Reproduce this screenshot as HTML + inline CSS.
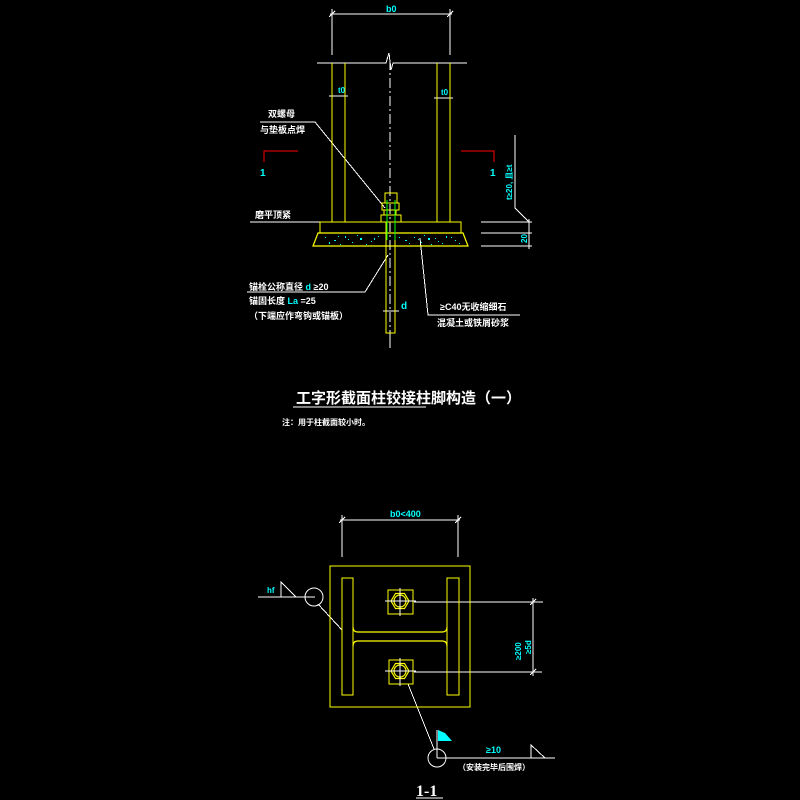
<!DOCTYPE html>
<html><head><meta charset="utf-8"><style>
html,body{margin:0;padding:0;background:#000;width:800px;height:800px;overflow:hidden}
svg text{font-family:"Liberation Sans","Noto Sans CJK SC",sans-serif;font-weight:bold}
</style></head><body>
<svg width="800" height="800" viewBox="0 0 800 800" xmlns="http://www.w3.org/2000/svg">
<rect width="800" height="800" fill="#000"/>
<g stroke="#fff" stroke-width="1" fill="none" shape-rendering="crispEdges">
  <line x1="330" y1="14" x2="452" y2="14"/>
  <line x1="332" y1="9" x2="332" y2="55"/>
  <line x1="450" y1="9" x2="450" y2="55"/>
  <line x1="329" y1="17" x2="335" y2="11"/><line x1="447" y1="17" x2="453" y2="11"/>
  <polyline points="317,63 386,63 389,53 391,70 393,63 467,63"/>
  <line x1="390" y1="60" x2="390" y2="348" stroke-dasharray="10,3,2,3"/>
  <line x1="329" y1="96" x2="348" y2="96"/><line x1="434" y1="98" x2="453" y2="98"/>
  <polyline points="260,122 315,122 385,208"/>
  <line x1="250" y1="222" x2="320" y2="222"/>
  <polyline points="515,135 515,208 529,222"/>
  <line x1="481" y1="222" x2="532" y2="222"/>
  <line x1="481" y1="233" x2="532" y2="233"/>
  <line x1="481" y1="246" x2="532" y2="246"/>
  <line x1="529" y1="219" x2="529" y2="249"/>
  <polyline points="247,292 365,292 388,255"/>
  <line x1="383" y1="311" x2="399" y2="311"/>
  <polyline points="420,238 428,315 520,315"/>
  <line x1="390" y1="333" x2="390" y2="348"/>
  <line x1="340" y1="520" x2="460" y2="520"/>
  <line x1="342" y1="515" x2="342" y2="557"/>
  <line x1="458" y1="515" x2="458" y2="557"/>
  <line x1="339" y1="523" x2="345" y2="517"/><line x1="455" y1="523" x2="461" y2="517"/>
  <line x1="414" y1="602" x2="543" y2="602"/>
  <line x1="414" y1="672" x2="542" y2="672"/>
  <line x1="533" y1="598" x2="533" y2="676"/>
  <line x1="530" y1="605" x2="536" y2="599"/><line x1="530" y1="675" x2="536" y2="669"/>
  <line x1="258" y1="597" x2="315" y2="597"/>
  <polyline points="281,597 281,582 296,597"/>
  <line x1="318" y1="604" x2="342" y2="630"/>
  <line x1="408" y1="684" x2="434" y2="749"/>
  <line x1="437" y1="758" x2="555" y2="758"/>
  <polyline points="531,758 531,745 545,758"/>
  <line x1="437" y1="730" x2="437" y2="758"/>
  <line x1="416" y1="798" x2="443" y2="798"/>
  <line x1="293" y1="407" x2="426" y2="407"/>
</g>
<g stroke="#fff" fill="none">
  <circle cx="314" cy="597" r="9"/>
  <circle cx="437" cy="758" r="9"/>
</g>
<g stroke="#f00" fill="none" stroke-width="1" shape-rendering="crispEdges">
  <polyline points="298,151 264,151 264,162"/>
  <polyline points="461,151 494,151 494,162"/>
</g>
<g stroke="#ff0" fill="none" stroke-width="1.3" shape-rendering="crispEdges">
  <line x1="332" y1="63" x2="332" y2="222"/><line x1="345" y1="63" x2="345" y2="222"/>
  <line x1="437" y1="63" x2="437" y2="222"/><line x1="450" y1="63" x2="450" y2="222"/>
  <rect x="320" y="222" width="141" height="11"/>
  <rect x="386" y="222" width="9" height="111"/>
  <rect x="385" y="193" width="12" height="10"/>
  <rect x="382" y="203" width="17" height="7"/>
  <rect x="384" y="210" width="12" height="5"/>
  <rect x="381" y="215" width="20" height="7"/>
  <rect x="330" y="566" width="140" height="141"/>
  <rect x="342" y="578" width="11" height="117"/>
  <rect x="447" y="578" width="12" height="117"/>
  <rect x="388" y="590" width="25" height="24"/>
  <rect x="389" y="660" width="24" height="24"/>
</g>
<g stroke="#ff0" fill="none" stroke-width="1.2">
  <polygon points="318,233 463,233 468,246 313,246"/>
  <path d="M353,627 Q353,632 358,632 L442,632 Q447,632 447,627 M353,646 Q353,641 358,641 L442,641 Q447,641 447,646"/>
  <polygon points="391,601 395.5,593.5 404.5,593.5 409,601 404.5,608.5 395.5,608.5"/>
  <circle cx="400" cy="601" r="6"/>
  <polygon points="391,671 395.5,663.5 404.5,663.5 409,671 404.5,678.5 395.5,678.5"/>
  <circle cx="400" cy="671" r="6"/>
</g>
<g stroke="#0f0" stroke-width="1" shape-rendering="crispEdges">
  <line x1="387" y1="200" x2="387" y2="240"/><line x1="395" y1="200" x2="395" y2="240"/>
</g>
<g stroke="#fff" stroke-width="1" shape-rendering="crispEdges">
  <line x1="385" y1="601" x2="416" y2="601"/>
  <line x1="400" y1="588" x2="400" y2="616"/><line x1="385" y1="671" x2="416" y2="671"/>
  <line x1="400" y1="658" x2="400" y2="686"/>
</g>
<g fill="#0ff">
  <rect x="325" y="237" width="1" height="1"/><rect x="334" y="240" width="2" height="1"/><rect x="345" y="236" width="1" height="2"/>
  <rect x="352" y="242" width="1" height="1"/><rect x="360" y="238" width="2" height="2"/><rect x="371" y="241" width="1" height="1"/>
  <rect x="378" y="236" width="1" height="1"/><rect x="405" y="240" width="2" height="1"/><rect x="414" y="237" width="1" height="1"/>
  <rect x="421" y="242" width="1" height="1"/><rect x="428" y="238" width="2" height="2"/><rect x="438" y="241" width="1" height="1"/>
  <rect x="446" y="236" width="1" height="2"/><rect x="455" y="240" width="1" height="1"/><rect x="340" y="244" width="1" height="1"/>
  <rect x="366" y="244" width="1" height="1"/><rect x="431" y="244" width="1" height="1"/><rect x="399" y="237" width="1" height="1"/>
  <rect x="329" y="242" width="1" height="2"/><rect x="348" y="239" width="1" height="1"/><rect x="357" y="235" width="1" height="1"/>
  <rect x="374" y="238" width="1" height="2"/><rect x="409" y="243" width="1" height="1"/><rect x="418" y="239" width="1" height="1"/>
  <rect x="424" y="235" width="1" height="1"/><rect x="435" y="238" width="1" height="1"/><rect x="442" y="243" width="1" height="1"/>
  <rect x="451" y="237" width="1" height="1"/><rect x="459" y="243" width="1" height="1"/><rect x="338" y="236" width="1" height="1"/>
</g>
<polygon points="438,730 438,741 452,741 445,733" fill="#0ff"/>
<g fill="#fff" font-size="9">
  <text x="268" y="117">双螺母</text>
  <text x="260" y="133">与垫板点焊</text>
  <text x="255" y="218">磨平顶紧</text>
  <text x="249" y="290">锚栓公称直径 <tspan fill="#0ff">d</tspan> ≥20</text>
  <text x="249" y="304">锚固长度 <tspan fill="#0ff">La</tspan> =25</text>
  <text x="249" y="319">（下端应作弯钩或锚板）</text>
  <text x="440" y="310">≥C40无收缩细石</text>
  <text x="437" y="326">混凝土或铁屑砂浆</text>
  <text x="282" y="425" font-size="8">注：用于柱截面较小时。</text>
  <text x="458" y="770" font-size="8">（安装完毕后围焊）</text>
</g>
<text x="296" y="403" fill="#fff" font-size="15">工字形截面柱铰接柱脚构造（一）</text>
<text x="416" y="796" fill="#fff" font-size="16" style="font-family:'Liberation Serif',serif">1-1</text>
<g fill="#0ff" font-size="9">
  <text x="386" y="12">b0</text>
  <text x="338" y="93" font-size="8">t0</text>
  <text x="441" y="95" font-size="8">t0</text>
  <text x="260" y="176" font-size="10">1</text>
  <text x="490" y="176" font-size="10">1</text>
  <text x="401" y="309" font-size="10">d</text>
  <text x="390" y="517">b0&lt;400</text>
  <text x="267" y="593" font-size="8">hf</text>
  <text x="486" y="753">≥10</text>
  <text transform="translate(512,200) rotate(-90)" font-size="8">t≥20, 且≥t</text>
  <text transform="translate(527,243) rotate(-90)" font-size="8">20</text>
  <text transform="translate(521,660) rotate(-90)" font-size="8">≥200</text>
  <text transform="translate(531,654) rotate(-90)" font-size="8">≥5d</text>
</g>
</svg>
</body></html>
